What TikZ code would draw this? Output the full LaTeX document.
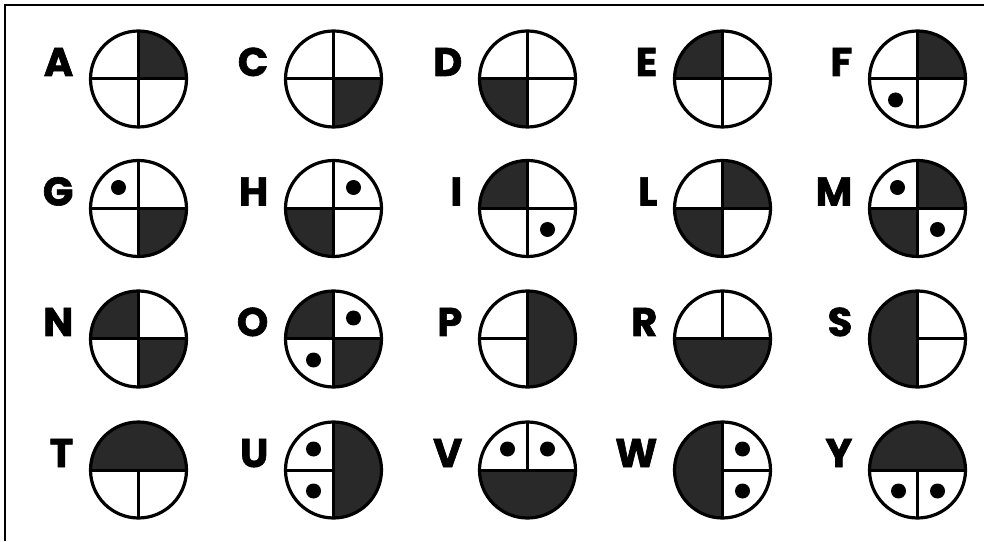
\documentclass[tikz,border=0pt]{standalone}
\usepackage{fontspec}
\setmainfont{Poppins}
\newfontfamily\labfont{Poppins}[UprightFeatures={FakeBold=1.6}, UprightFont=* Bold]
\pgfdeclarelayer{bg}
\pgfsetlayers{bg,main}
\tikzset{
  disc/.style={circle, draw=black, line width=3.2pt, minimum size=96pt, inner sep=0pt, outer sep=0pt},
  shadefill/.style={fill=black!84},
  divline/.style={line width=3pt, line cap=butt},
  lab/.style={font=\fontsize{40}{40}\labfont, inner sep=0pt, anchor=base east},
  dotmark/.style={fill=black}
}
\newcommand\Rad{48pt}
\newcommand\sect[3]{\begin{pgfonlayer}{bg}\fill[shadefill] (#1.center) -- (#1.#2) arc[start angle=#2, end angle=#3, radius=\Rad] -- cycle;\end{pgfonlayer}}
\newcommand\dotat[3]{\fill[dotmark] ([xshift=#2pt,yshift=#3pt]#1.center) circle[radius=7.5pt];}
\newcommand\cell[4]{% name, x, y, letter
  \node[disc] (#1) at (#2,#3) {};
  \node[lab] (l#1) at ([xshift=-65pt,yshift=3pt]#1.center) {#4};}
\begin{document}
\begin{tikzpicture}[x=1pt,y=1pt]
\useasboundingbox (0,0) rectangle (984,541);
\draw[line width=2.2pt] (5,0) -- (5,536.3) -- (984,536.3);
% row 1
\cell{A}{138.5}{462}{A}
\cell{C}{333.5}{462}{C}
\cell{D}{527.5}{462}{D}
\cell{E}{722.5}{462}{E}
\cell{F}{917.5}{462}{F}
% row 2
\cell{G}{138.5}{332.5}{G}
\cell{H}{333.5}{332.5}{H}
\cell{I}{527.5}{332.5}{I}
\cell{L}{722.5}{332.5}{L}
\cell{M}{917.5}{332.5}{M}
% row 3
\cell{N}{138.5}{202}{N}
\cell{O}{333.5}{202}{O}
\cell{P}{527.5}{202}{P}
\cell{R}{722.5}{202}{R}
\cell{S}{917.5}{202}{S}
% row 4
\cell{T}{138.5}{71}{T}
\cell{U}{333.5}{71}{U}
\cell{V}{527.5}{71}{V}
\cell{W}{722.5}{71}{W}
\cell{Y}{917.5}{71}{Y}
% fills
\sect{A}{0}{90}
\sect{C}{270}{360}
\sect{D}{180}{270}
\sect{E}{90}{180}
\sect{F}{0}{90}
\sect{G}{270}{360}
\sect{H}{180}{270}
\sect{I}{90}{180}
\sect{L}{0}{90}\sect{L}{180}{270}
\sect{M}{0}{90}\sect{M}{180}{270}
\sect{N}{90}{180}\sect{N}{270}{360}
\sect{O}{90}{180}\sect{O}{270}{360}
\sect{P}{-90}{90}
\sect{R}{180}{360}
\sect{S}{90}{270}
\sect{T}{0}{180}
\sect{U}{-90}{90}
\sect{V}{180}{360}
\sect{W}{90}{270}
\sect{Y}{0}{180}
% full crosses
\foreach \n in {A,C,D,E,F,G,H,I,L,M,N,O}{
  \draw[divline] (\n.north) -- (\n.south);
  \draw[divline] (\n.west) -- (\n.east);
}
% half-divided
\draw[divline] (P.north) -- (P.south); \draw[divline] (P.west) -- (P.center);
\draw[divline] (R.west) -- (R.east); \draw[divline] (R.north) -- (R.center);
\draw[divline] (S.north) -- (S.south); \draw[divline] (S.center) -- (S.east);
\draw[divline] (T.west) -- (T.east); \draw[divline] (T.center) -- (T.south);
\draw[divline] (U.north) -- (U.south); \draw[divline] (U.west) -- (U.center);
\draw[divline] (V.west) -- (V.east); \draw[divline] (V.north) -- (V.center);
\draw[divline] (W.north) -- (W.south); \draw[divline] (W.center) -- (W.east);
\draw[divline] (Y.west) -- (Y.east); \draw[divline] (Y.center) -- (Y.south);
% dots
\dotat{F}{-22}{-21}
\dotat{G}{-20}{21}
\dotat{H}{20}{21}
\dotat{I}{20}{-21}
\dotat{M}{-20}{21}\dotat{M}{20}{-21}
\dotat{O}{20}{21}\dotat{O}{-20}{-21}
\dotat{U}{-20}{21}\dotat{U}{-20}{-21}
\dotat{V}{-20}{21}\dotat{V}{20}{21}
\dotat{W}{20}{21}\dotat{W}{20}{-21}
\dotat{Y}{-19}{-21}\dotat{Y}{20}{-21}
\end{tikzpicture}
\end{document}
